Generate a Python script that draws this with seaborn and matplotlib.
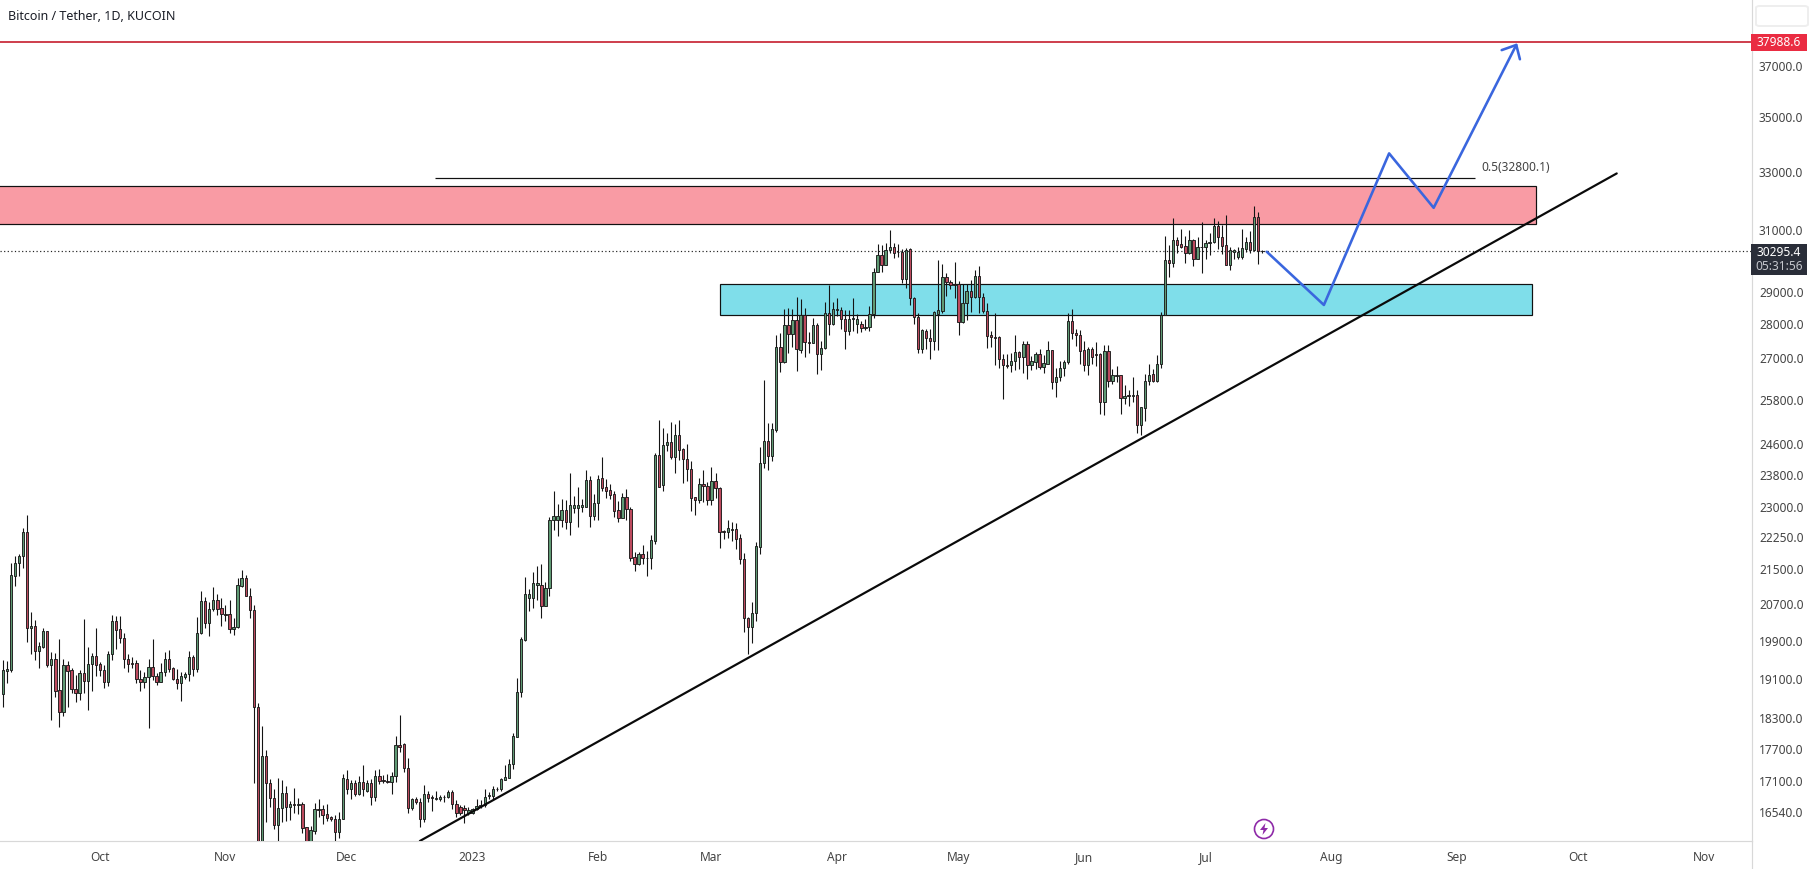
import numpy as np
import pandas as pd
import matplotlib
matplotlib.use("Agg")
import matplotlib.pyplot as plt
from matplotlib.patches import Rectangle, FancyBboxPatch, Circle, Polygon
import seaborn as sns

start_date = "2022-09-07"
opens = [18780,19270,19280,21350,21640,21810,22380,20180,20230,19690,
19770,20110,19390,19520,18870,18430,19380,19280,18900,18800,
19210,19060,19400,19570,19400,19290,19040,19610,20330,20150,
19950,19520,19420,19420,19100,19040,19140,19350,19150,19040,
19250,19520,19320,19100,19020,19140,19190,19550,19310,20070,
20770,20280,20590,20790,20610,20480,20480,20150,20200,21120,
21300,20890,20570,18530,15880,17580,17060,16800,16320,16610,
16890,16640,16680,16670,16680,16270,15780,16210,16590,16600,
16500,16450,16410,16190,16420,17150,16960,17070,16860,17090,
16930,17070,16820,17200,17120,17110,17080,17200,17790,17800,
17340,16620,16770,16730,16420,16870,16810,16770,16770,16810,
16810,16910,16690,16630,16620,16520,16520,16590,16650,16660,
16830,16830,16950,16950,17130,17170,17430,17940,18830,19910,
20850,20850,21130,21130,20650,21060,22660,22680,22680,22920,
22610,22970,22970,23000,23000,23680,22760,23100,23710,23480,
23410,23310,22910,22720,23230,22930,21790,21610,21850,21770,
21750,22170,24310,23540,24570,24660,24270,24850,24470,24200,
23950,23230,23160,23580,23520,23160,23650,23470,22400,22370,
22430,22440,22230,21730,20400,20200,20510,22020,24110,24680,
24290,24990,27330,26880,27970,27710,28120,27240,28290,27460,
27450,27970,27120,27280,28350,28010,28440,28440,28170,27800,
28170,28010,28020,27900,27910,28300,29620,30170,29860,30350,
30430,30280,30280,29390,30360,28810,28230,27270,27810,27600,
27510,28300,28400,29470,29300,29230,29230,28070,28660,29030,
28840,29510,28840,28410,27670,27630,27610,26980,26810,26790,
26920,27170,27030,27410,26800,26890,27120,26740,26840,27230,
26310,26460,26700,26870,28090,27730,27690,27230,26800,27260,
27130,27130,25740,27210,26340,26490,26500,25850,25930,25910,
25930,25130,25590,26340,26530,26340,26840,28290,30020,29910,
30660,30520,30470,30250,30660,30060,30430,30450,30580,30600,
31130,30770,30500,29860,30260,30100,30120,30370,30600,30340,
31430,30290]
closes = [19280,19300,21370,21640,21810,22380,20180,20230,19690,19780,
20120,19390,19520,18860,18430,19380,19270,18900,18800,19210,
19050,19400,19570,19390,19290,19040,19610,20330,20140,19950,
19520,19400,19400,19090,19040,19140,19350,19160,19040,19250,
19520,19310,19090,19020,19150,19190,19550,19310,20070,20770,
20280,20590,20790,20600,20480,20470,20150,20200,21130,21290,
20890,20570,18530,15880,17580,17060,16800,16320,16610,16890,
16640,16680,16670,16680,16260,15780,16220,16590,16580,16490,
16440,16410,16190,16420,17160,16960,17070,16860,17090,16950,
17070,16820,17200,17110,17110,17080,17200,17780,17750,17340,
16620,16770,16720,16420,16870,16790,16800,16800,16810,16820,
16910,16690,16530,16520,16580,16580,16600,16650,16660,16820,
16840,16950,16960,17140,17180,17430,17950,18830,19930,20930,
20930,21170,21170,20650,21060,22670,22760,22770,22920,22610,
23030,23030,23050,23050,23680,22760,23100,23690,23470,23400,
23300,22900,22720,23230,22930,21770,21610,21850,21770,21750,
22180,24310,23500,24570,24660,24260,24850,24460,24200,23940,
23220,23160,23570,23510,23160,23650,23470,22390,22370,22470,
22460,22220,21730,20400,20200,20510,22040,24110,24680,24290,
25000,27330,26880,27970,27720,28120,27260,28290,27460,27450,
27970,27130,27280,28350,28010,28470,28480,28160,27800,28170,
28180,28150,27890,27930,28320,29620,30170,29860,30350,30430,
30250,30260,29390,30350,28810,28230,27270,27820,27600,27510,
28380,28420,29470,29300,29200,29210,28070,28660,29030,28840,
29510,28830,28390,27650,27630,27600,26970,26800,26780,26920,
27170,27030,27410,26800,26900,27120,26730,26850,27230,26310,
26460,26720,26870,28090,27730,27680,27210,26800,27260,27040,
27090,25740,27210,26340,26500,26500,25850,25920,25910,25930,
25130,25600,26340,26520,26340,26840,28290,30020,29910,30660,
30510,30450,30250,30660,30060,30430,30450,30560,30600,31130,
30770,30480,29860,30330,30340,30260,30390,30600,30340,31430,
30290,30295]
highs = [19490,19460,21640,21810,21860,22470,22790,20530,20340,19870,
20180,20110,19670,19630,19930,19510,19480,19320,19170,19290,
20380,19760,19630,20180,19450,19380,19690,20460,20440,20440,
20070,19610,19560,19500,19280,19240,19510,19930,19220,19430,
19650,19700,19350,19310,19240,19240,19680,19600,20420,21000,
20860,20750,21080,20920,20830,20680,20790,20390,21290,21480,
21370,21060,20680,18600,18160,17680,17150,16950,17170,17120,
17010,16740,16980,16800,16720,16280,16290,16700,16780,16670,
16690,16470,16490,16550,17230,17310,17120,17120,17190,17410,
17130,17150,17310,17320,17220,17240,17280,17960,18370,17830,
17530,16790,16810,16800,17030,16930,16840,16930,16840,16840,
16940,16940,16760,16670,16670,16630,16610,16780,16750,16960,
16910,17020,17000,17160,17400,17510,18010,19110,19990,21320,
21040,21430,21570,21620,21200,22740,23400,23060,23180,23160,
23840,23270,23480,23180,23920,23780,23320,23800,24260,23690,
23570,23400,23150,23330,23440,23000,21910,21910,22070,21930,
22310,24380,25260,25030,24900,25190,25150,25250,24500,24610,
24160,23240,23710,23930,23620,24000,23840,23500,22430,22670,
22630,22590,22330,21880,20420,20740,22140,24520,26380,25170,
25170,27680,27730,28470,28500,28470,28840,28760,28500,27780,
28200,28030,27500,28680,29200,28680,28810,28530,28450,28450,
28800,28300,28100,28150,28560,29750,30540,30500,30580,31000,
30580,30530,30360,30410,30390,28830,28330,27870,27850,27850,
28400,30010,29880,29590,29380,29950,29330,29230,29230,29380,
29680,29820,28950,28640,27800,28330,27650,27110,27110,27140,
27670,27210,27510,27510,27050,27180,27260,27080,27490,27230,
26720,26910,26930,28350,28470,27850,27830,27500,27310,27310,
27460,27160,27380,27380,26680,26770,26510,26220,26090,26440,
26090,25600,26530,26840,26690,27080,28370,30810,30500,31390,
30780,31020,30800,31000,30700,30760,31270,30650,30890,31400,
31290,31150,31510,30420,30360,30420,31020,30750,30950,31820,
31600,30340]
lows = [18530,19020,19250,21120,21350,21520,19880,19620,19490,19330,
19740,19350,18260,18730,18140,18350,18530,18800,18630,18670,
18810,18470,18860,19150,19150,18920,18950,19490,19720,19850,
19330,19250,19330,19010,18860,18920,18120,19070,18970,19030,
19160,19250,19070,18890,18650,19100,19060,19150,19250,20050,
20180,20010,20560,20460,20230,20330,20060,20030,20180,21080,
20890,20390,17070,15580,15750,16370,16630,16240,15820,16360,
16390,16400,16520,16500,16180,15480,15620,16160,16460,16330,
16390,16390,15990,16090,16410,16860,16770,16830,16850,16830,
16900,16660,16740,17050,17070,17070,16860,17080,17650,17280,
16530,16580,16680,16270,16370,16720,16560,16750,16740,16720,
16800,16600,16460,16490,16340,16490,16500,16570,16610,16640,
16780,16770,16920,16920,17120,17160,17320,17930,18730,19900,
20540,20620,20790,20400,20650,20880,22420,22290,22490,22440,
22300,22850,22510,22870,22980,22490,22680,22680,23380,23210,
23200,22750,22620,22710,22660,21680,21450,21590,21620,21340,
21510,22080,23500,23390,24430,24220,23860,24180,23600,23640,
22890,22790,23100,23120,23050,23050,23220,22000,22210,22230,
22150,21980,21630,20090,19620,19850,20320,21860,23990,23920,
24150,24920,26600,26860,27140,27310,26630,27160,27020,27160,
27440,26530,26650,27260,27670,27970,28250,27870,27260,27670,
27800,27750,27770,27830,27800,28200,29610,29640,29850,30230,
30070,30100,29260,29120,28580,28000,27140,27140,27260,26970,
27230,27240,28350,28860,29080,28810,27670,28050,28130,28370,
28810,28350,28350,27290,27310,26800,26720,25830,26720,26600,
26650,26680,26560,26400,26650,26670,26670,26560,26820,26110,
25890,26350,26470,26820,27570,27360,26820,26630,26510,26820,
26770,25420,25380,26160,26250,26320,25410,25690,25630,25740,
24890,24850,25220,26230,26300,26310,26700,28290,29470,29800,
30250,30390,29930,30210,29830,30050,29600,30030,30180,30580,
30370,30210,29840,29690,30040,30040,30030,30280,30230,30310,
29880,30250]

y_ticks = [37000,35000,33000,31000,29000,28000,27000,25800,24600,23800,23000,22250,
           21500,20700,19900,19100,18300,17700,17100,16540]
x_tick_dates = ["2022-10-01","2022-11-01","2022-12-01","2023-01-01","2023-02-01","2023-03-01",
                "2023-04-01","2023-05-01","2023-06-01","2023-07-01","2023-08-01","2023-09-01",
                "2023-10-01","2023-11-01"]
x_tick_labels = ["Oct","Nov","Dec","2023","Feb","Mar","Apr","May","Jun","Jul","Aug","Sep","Oct","Nov"]

resistance_level = 37988.6
last_price = 30295.4
fib_level = 32800.1
red_zone = (31200, 32510)
blue_zone = (28270, 29230)
trend_days = [103.0, 398.5]
trend_prices = [16033, 32950]
path_days = [312.1, 326.2, 342.3, 353.3, 373.7]
path_prices = [30280, 28590, 33670, 31750, 37850]
head_days = [370.1, 373.7, 374.6]
head_prices = [37640, 37850, 37270]

sns.set_theme(style="white")
plt.rcParams["font.family"] = ["Noto Sans", "DejaVu Sans"]

W, H = 1815, 869
fig = plt.figure(figsize=(W / 100, H / 100), dpi=100, facecolor="white")
ax = fig.add_axes([0, 1 - 841 / H, 1752 / W, 841 / H])
PX = 0.72
FS = 8.6

df = pd.DataFrame({"day": np.arange(len(opens)), "open": opens, "high": highs,
                   "low": lows, "close": closes})
df["top"] = df[["open", "close"]].max(axis=1)
df["bot"] = df[["open", "close"]].min(axis=1)
df["up"] = df["close"] >= df["open"]

ax.set_yscale("log")
ax.set_xlim(-0.667, 431.9)
ax.set_ylim(16033, 39731)

# zones
ax.add_patch(Rectangle((-10, red_zone[0]), 388.5, red_zone[1] - red_zone[0], fc="#f99ba4", ec="#111111", lw=1.2 * PX, zorder=1))
ax.add_patch(Rectangle((177.2, blue_zone[0]), 200.3, blue_zone[1] - blue_zone[0], fc="#7fdeea", ec="#111111", lw=1.2 * PX, zorder=1))
ax.axhline(last_price, color="#222222", lw=1.2 * PX, ls=(0, (1, 2)), zorder=1.5)

# candles
ax.vlines(df["day"], df["low"], df["high"], color="#141414", lw=1.1 * PX, zorder=3)
for up, col in [(True, "#5f9a74"), (False, "#bd4a5e")]:
    d = df[df["up"] == up]
    ax.bar(d["day"], d["top"] - d["bot"], bottom=d["bot"], width=0.58, color=col,
           edgecolor="#1a1a1a", linewidth=0.9 * PX, zorder=4)

# drawn lines
ax.axhline(resistance_level, color="#cf4350", lw=2 * PX, zorder=5)
ax.hlines(fib_level, 106.7, 363.5, color="#111111", lw=1.2 * PX, zorder=5)
ax.text(365.0, 33150, "0.5(32800.1)", fontsize=FS, color="#444444", va="center", ha="left")
sns.lineplot(x=trend_days, y=trend_prices, ax=ax, color="#0a0a0a", lw=2.2 * PX, sort=False, estimator=None, zorder=6)
sns.lineplot(x=path_days, y=path_prices, ax=ax, color="#3a66de", lw=2.6 * PX, sort=False, estimator=None, zorder=7)
sns.lineplot(x=head_days, y=head_prices, ax=ax, color="#3a66de", lw=2.6 * PX, sort=False, estimator=None, zorder=7)
ax.set(xlabel="", ylabel="")

# axes
ax.set_xlim(-0.667, 431.9)
ax.set_ylim(16033, 39731)
base = pd.Timestamp(start_date)
ax.set_xticks([(pd.Timestamp(t) - base).days for t in x_tick_dates])
ax.set_xticklabels(x_tick_labels)
ax.set_yticks(y_ticks)
ax.set_yticklabels([f"{v:.1f}" for v in y_ticks])
ax.minorticks_off()
ax.yaxis.tick_right()
ax.tick_params(axis="y", length=0, pad=5, labelsize=FS, labelcolor="#444444")
ax.tick_params(axis="x", length=0, pad=7, labelsize=FS, labelcolor="#444444")
ax.grid(False)
for side in ("top", "left"):
    ax.spines[side].set_visible(False)
for side in ("right", "bottom"):
    ax.spines[side].set_color("#d8d8d8")
    ax.spines[side].set_linewidth(1.2 * PX)


def fx(x):
    return x / W


def fy(y):
    return 1 - y / H


fig.add_artist(plt.Line2D([fx(1752), fx(1752)], [fy(841), fy(869)], color="#d8d8d8", lw=1.2 * PX))

fig.text(fx(8), fy(16), "Bitcoin / Tether, 1D, KUCOIN", fontsize=9.0, fontweight="bold",
         color="#1a1d26", va="center", ha="left")

fig.add_artist(Rectangle((fx(1751), fy(50.7)), 56 / W, 16.7 / H, transform=fig.transFigure, fc="#ea2c42", ec="none"))
fig.text(fx(1779), fy(42.5), "37988.6", fontsize=FS, color="white", va="center", ha="center")
fig.add_artist(Rectangle((fx(1751), fy(275)), 56 / W, 31 / H, transform=fig.transFigure, fc="#2a2e39", ec="none"))
fig.text(fx(1779), fy(252.5), "30295.4", fontsize=FS, color="white", va="center", ha="center")
fig.text(fx(1779), fy(266), "05:31:56", fontsize=FS, color="#c4c6cc", va="center", ha="center")
fig.add_artist(FancyBboxPatch((fx(1756), fy(26)), 52 / W, 20 / H, boxstyle="round,pad=0,rounding_size=0.002",
                              transform=fig.transFigure, fc="white", ec="#eeeeee", lw=1.4))

# purple bolt badge
bolt_ax = fig.add_axes([(1264 - 12) / W, 1 - (829 + 12) / H, 24 / W, 24 / H])
bolt_ax.set_xlim(-12, 12)
bolt_ax.set_ylim(-12, 12)
bolt_ax.axis("off")
bolt_ax.add_patch(Circle((0, 0), 9.5, fc="white", ec="#8e2aa8", lw=1.2))
bolt_ax.add_patch(Polygon([(1.5, 6), (-4, -1), (-0.5, -1), (-1.5, -6), (4, 1), (0.5, 1)], closed=True,
                          fc="#8e2aa8", ec="none"))

fig.savefig("out.png", dpi=100, facecolor="white")
